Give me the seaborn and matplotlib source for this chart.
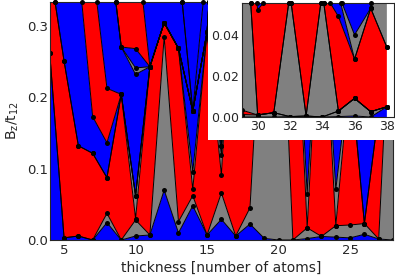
import numpy as np
import matplotlib.pyplot as plt
import seaborn as sns
from matplotlib.patches import Rectangle

sns.set_style("white")
plt.rcParams['font.family'] = ['DejaVu Sans']
plt.rcParams['mathtext.default'] = 'regular'
plt.rcParams['font.size'] = 10

# thickness (number of atoms) and the phase of each band, bottom to top
thickness = np.arange(4, 39)
phase_colors = ['#0000ff', '#808080', '#ff0000', '#808080', '#0000ff', '#ff0000',
                '#0000ff', '#808080', '#0000ff', '#ff0000', '#0000ff', '#0000ff', '#0000ff']

# upper edge (Bz/t12) of the first 12 bands for each thickness
n04 = [.2614, .2614, .382, .382, .806, .89, 1.1, 1.1, 1.1, 1.3, 1.5, 1.5]
n05 = [.003, .003, .2507, .2507, .595, .723, .93, .93, .93, 1.2, 1.4, 1.4]
n06 = [.0056, .0056, .132, .132, .384, .553, .766, .766, .766, 1.1, 1.3, 1.3]
n07 = [0, 0, .1214, .1214, .1727, .383, .60, .60, .60, 1.0, 1.2, 1.2]
n08 = [.0243, .0373, .0873, .0873, .1363, .2124, .436, .436, .436, .81, 1.0, 1.0]
n09 = [0, 0, .204, .204, .204, .204, .2703, .2703, .2703, .62, .8, .8]
n10 = [.0056, .028, .030, .062, .062, .062, .232, .241, .268, .431, 1.0, 1.0]
n11 = [.007, .007, .2427, .2427, .2427, .2427, .2427, .2427, .2427, .2427, .80, .80]
n12 = [.070, .2848, .3044, .3044, .3044, .3044, .3044, .3044, .3044, .3044, .593, .593]
n13 = [.010, .0257, .2684, .2684, .2684, .2684, .2684, .2684, .2684, .2684, .387, .387]
n14 = [.048, .062, .071, .0957, .1807, .1807, .1807, .1807, .1807, .1807, .1807, .1807]
n15 = [.007, .007, .2918, .2918, .2918, .2918, .2918, .2918, .2918, .2918, .2918, .39]
n16 = [.029, .066, .091, .119, .132, .132, .60, .60, .60, .60, .60, .60]
n17 = [.0056, .0056, .45, .45, .45, .45, .45, .45, .45, .45, .45, .6]
n18 = [.0224, .045, .5, .5, .5, .5, .5, .5, .5, .5, .5, .6]
n19 = [.0023, .40, .6, .6, .6, .6, .6, .6, .6, .6, .6, .6]
n20 = [0, .47, .6, .6, .6, .6, .6, .6, .6, .6, .6, .6]
n21 = [0, 0, .44, .44, .44, .44, .44, .44, .44, .44, .44, .44]
n22 = [.002, .017, .017, .065, .8, .8, .8, .8, .8, .8, .8, .8]
n23 = [.005, .005, .4, .4, .4, .4, .4, .4, .4, .4, .4, .4]
n24 = [.004, .020, .020, .071, .8, .8, .8, .8, .8, .8, .8, .8]
n25 = [.003, .021, .24, .24, .24, .24, .24, .24, .24, .24, .24, .24]
n26 = [.008, .023, .023, .023, .8, .8, .8, .8, .8, .8, .8, .8]
n27 = [.0014, .0014, .18, .18, .18, .18, .18, .18, .18, .18, .18, .18]
n28 = [0, .41, .6, .6, .6, .6, .6, .6, .6, .6, .6, .6]
n29 = [0, .0012, .0034, .128, .128, .128, .3, .3, .3, .3, .3, .3]
n30 = [0, .001, .001, .001, .001, .0522, .3, .3, .3, .3, .3, .3]
n31 = [0, .0021, .0021, .0021, .0021, .0617, .3, .3, .3, .3, .3, .3]
n32 = [.0002, .0002, .0002, .060, .060, .2, .3, .3, .3, .3, .3, .3]
n33 = [0, .0005, .0005, .0005, .0005, .2, .3, .3, .3, .3, .3, .3]
n34 = [0, 0, 0, .061, .061, .062, .3, .3, .3, .3, .3, .3]
n35 = [.0002, .0029, .0029, .0029, .0029, .049, .06, .06, .3, .3, .3, .3]
n36 = [.0005, .0091, .0091, .0091, .0091, .0282, .0282, .040, .3, .3, .3, .3]
n37 = [0, .0026, .0026, .0026, .0026, .053, .053, .053, .3, .3, .3, .3]
n38 = [.005, .005, .005, .005, .005, .034, .034, .3, .3, .3, .3, .3]

columns = [n04, n05, n06, n07, n08, n09, n10, n11, n12, n13, n14, n15, n16, n17, n18,
           n19, n20, n21, n22, n23, n24, n25, n26, n27, n28, n29, n30, n31, n32, n33,
           n34, n35, n36, n37, n38]
edges = np.maximum.accumulate(np.array(columns), axis=1).T


def draw_phases(ax, xlim, ytop):
    for k, color in enumerate(phase_colors):
        lower = np.zeros(len(thickness)) if k == 0 else edges[k - 1]
        upper = edges[k] if k < len(edges) else np.full(len(thickness), 5.0)
        ax.fill_between(thickness, lower, upper, color=color, lw=0, zorder=1)
    for e in edges:
        sns.lineplot(x=thickness, y=e, ax=ax, color='black', lw=0.7, marker='o',
                     markersize=3.6, markeredgewidth=0, zorder=2)
    # points where a phase boundary leaves through the top of the window
    exit_x = []
    for e in edges:
        for i in range(len(thickness) - 1):
            a, b = e[i], e[i + 1]
            if (a - ytop) * (b - ytop) < 0:
                x0 = thickness[i] + (ytop - a) / (b - a)
                if xlim[0] <= x0 <= xlim[1]:
                    exit_x.append(x0)
    ax.plot(exit_x, [ytop] * len(exit_x), 'o', color='black', ms=3.6, mew=0,
            clip_on=False, zorder=3)
    ax.set_xlim(*xlim)
    ax.set_ylim(0, ytop)
    ax.set_xlabel('')
    ax.set_ylabel('')


fig = plt.figure(figsize=(3.95, 2.76), dpi=100)
ax = fig.add_axes([49.75 / 395, 36 / 276, 343.25 / 395, 238 / 276])
draw_phases(ax, (4, 28), 1 / 3)
ax.set_xticks([5, 10, 15, 20, 25])
ax.set_yticks([0.0, 0.1, 0.2, 0.3])
ax.set_yticklabels(['0.0', '0.1', '0.2', '0.3'])
ax.tick_params(axis='both', length=0, labelsize=9.5)
ax.tick_params(axis='y', pad=1.5)
ax.tick_params(axis='x', pad=3)
ax.set_xlabel('thickness [number of atoms]', labelpad=3)
ax.set_ylabel('B$_z$/t$_{12}$', labelpad=4)
ax.add_patch(Rectangle((208 / 395, 1 - 140 / 276), 1, 1, transform=fig.transFigure,
                       facecolor='white', edgecolor='none', zorder=10, clip_on=False))

ins = fig.add_axes([241.5 / 395, 1 - 117 / 276, 152 / 395, 114 / 276])
draw_phases(ins, (29, 29 + 152 / 16.15), 1 / 18)
ins.set_xticks([30, 32, 34, 36, 38])
ins.set_yticks([0.0, 0.02, 0.04])
ins.set_yticklabels(['0.00', '0.02', '0.04'])
ins.tick_params(axis='both', length=0, labelsize=9)
ins.tick_params(axis='y', pad=1.5)
ins.tick_params(axis='x', pad=2)

fig.savefig('out.png', dpi=100)
